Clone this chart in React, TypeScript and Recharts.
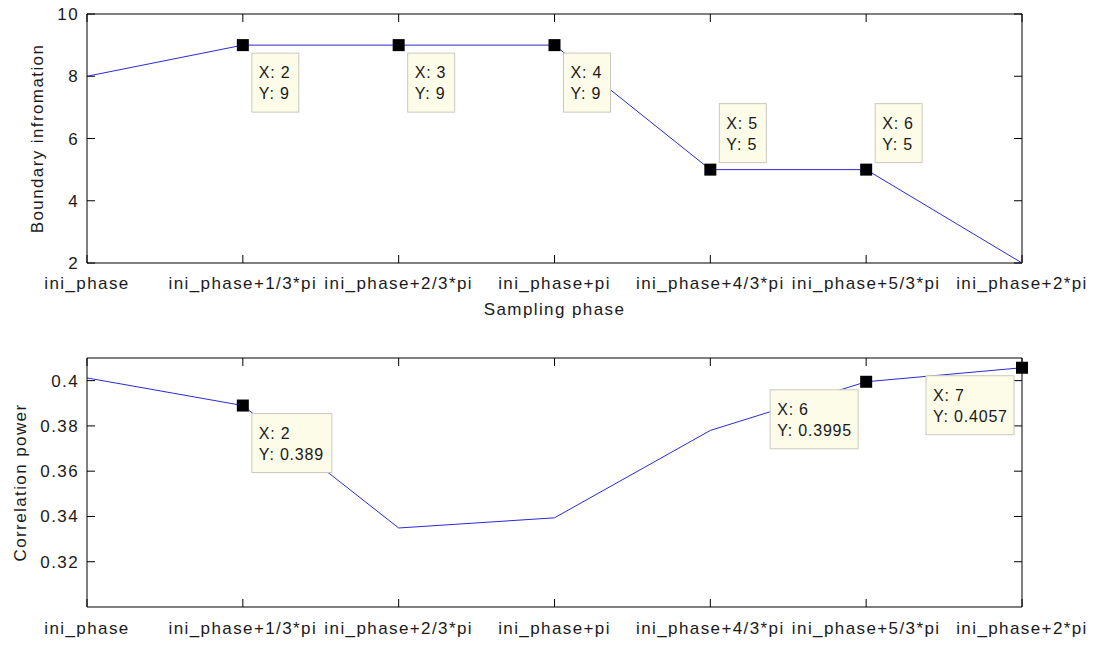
import React from 'react';
import { LineChart, Line, XAxis, YAxis, LabelList, ReferenceLine } from 'recharts';

// Sampling phases along the x axis
const phaseLabels = [
  'ini_phase',
  'ini_phase+1/3*pi',
  'ini_phase+2/3*pi',
  'ini_phase+pi',
  'ini_phase+4/3*pi',
  'ini_phase+5/3*pi',
  'ini_phase+2*pi',
];
const phaseIndex = [1, 2, 3, 4, 5, 6, 7];

// Series values per sampling phase
const boundaryInfo = [8, 9, 9, 9, 5, 5, 2];
const correlationPower = [0.4012, 0.389, 0.3349, 0.3394, 0.378, 0.3995, 0.4057];

// Axis ticks and limits
const boundaryTicks = [2, 4, 6, 8, 10];
const boundaryDomain: [number, number] = [2, 10];
const correlationTicks = [0.32, 0.34, 0.36, 0.38, 0.4];
const correlationDomain: [number, number] = [0.3, 0.41];

// Data tips: which points carry a marker and a tip, and where its box sits
const boundaryTips: Record<number, string> = { 1: 'br', 2: 'br', 3: 'br', 4: 'ar', 5: 'ar' };
const correlationTips: Record<number, string> = { 1: 'br', 5: 'bl', 6: 'bl' };

const topData = phaseIndex.map((x, i) => ({ x, value: boundaryInfo[i] }));
const bottomData = phaseIndex.map((x, i) => ({ x, value: correlationPower[i] }));

const FONT = '"Liberation Sans", Arial, sans-serif';
const TEXT = '#1a1a1a';
const LINE = '#2a2ad2';

const W = 1099;
const PLOT_W = 935;
const PLOT_H = 249;
const TICK_PX = 8;

const tickStyle = { fontSize: 17, fill: TEXT, fontFamily: FONT, letterSpacing: 1.4 };
const xDomain: [number, number] = [phaseIndex[0], phaseIndex[phaseIndex.length - 1]];

const makeDot = (tips: Record<number, string>) => (props: any) => {
  const { cx, cy, index } = props;
  if (!(index in tips) || cx == null || cy == null) return <g key={`d${index}`} />;
  return <rect key={`d${index}`} x={cx - 6} y={cy - 6} width={12} height={12} fill="#000" />;
};

const makeTip = (tips: Record<number, string>) => (props: any) => {
  const { x, y, value, index } = props;
  const place = tips[index];
  if (!place || x == null || y == null) return null;
  const lineX = `X: ${index + 1}`;
  const lineY = `Y: ${value}`;
  const w = Math.round(Math.max(lineX.length, lineY.length) * 8.2 + 14);
  const h = 59;
  let bx = x + 9;
  let by = y + 8;
  if (place === 'ar') {
    by = y - 7 - h;
  } else if (place === 'bl') {
    bx = x - 8 - w;
  }
  return (
    <g key={`t${index}`}>
      <rect x={bx} y={by} width={w} height={h} fill="#fcfce8" stroke="#c9c9c0" strokeWidth={1} />
      <text x={bx + 7} y={by + 25} fontSize={16} fill={TEXT} fontFamily={FONT} style={{ letterSpacing: 0.8 }}>
        {lineX}
      </text>
      <text x={bx + 7} y={by + 46} fontSize={16} fill={TEXT} fontFamily={FONT} style={{ letterSpacing: 0.8 }}>
        {lineY}
      </text>
    </g>
  );
};

const YTitle = ({ viewBox, text, cx }: any) => {
  if (!viewBox) return null;
  const cy = viewBox.y + viewBox.height / 2;
  return (
    <text
      x={cx}
      y={cy}
      transform={`rotate(-90, ${cx}, ${cy})`}
      textAnchor="middle"
      dominantBaseline="central"
      fontSize={17}
      fill={TEXT}
      fontFamily={FONT}
      style={{ letterSpacing: 1.4 }}
    >
      {text}
    </text>
  );
};

const XTitle = ({ viewBox, text }: any) => {
  if (!viewBox) return null;
  return (
    <text
      x={viewBox.x + viewBox.width / 2}
      y={viewBox.y + 52}
      textAnchor="middle"
      fontSize={17}
      fill={TEXT}
      fontFamily={FONT}
      style={{ letterSpacing: 1.4 }}
    >
      {text}
    </text>
  );
};

// Box frame (top and right edges) plus inward-pointing ticks on all four sides
function frameAndTicks(yDomain: [number, number], yTicks: number[], key: string) {
  const [y0, y1] = yDomain;
  const [x0, x1] = xDomain;
  const dy = ((y1 - y0) * TICK_PX) / PLOT_H;
  const dx = ((x1 - x0) * TICK_PX) / PLOT_W;
  const s = { stroke: '#000', strokeWidth: 1 };
  const out: React.ReactNode[] = [
    <ReferenceLine key={`${key}-top`} y={y1} {...s} />,
    <ReferenceLine key={`${key}-right`} x={x1} {...s} />,
  ];
  phaseIndex.forEach((v) => {
    out.push(
      <ReferenceLine key={`${key}-xb${v}`} segment={[{ x: v, y: y0 }, { x: v, y: y0 + dy }]} {...s} />,
      <ReferenceLine key={`${key}-xt${v}`} segment={[{ x: v, y: y1 }, { x: v, y: y1 - dy }]} {...s} />
    );
  });
  yTicks.forEach((t) => {
    out.push(
      <ReferenceLine key={`${key}-yl${t}`} segment={[{ x: x0, y: t }, { x: x0 + dx, y: t }]} {...s} />,
      <ReferenceLine key={`${key}-yr${t}`} segment={[{ x: x1, y: t }, { x: x1 - dx, y: t }]} {...s} />
    );
  });
  return out;
}

export default function App() {
  return (
    <div style={{ position: 'absolute', left: 0, top: 0, width: W, height: 646, background: '#fff', fontFamily: FONT }}>
      {/* Boundary information vs sampling phase */}
      <div style={{ position: 'absolute', left: 0, top: 0 }}>
        <LineChart width={W} height={340} data={topData} margin={{ top: 14, right: 77, left: 0, bottom: 0 }}>
          <XAxis
            type="number"
            dataKey="x"
            domain={xDomain}
            ticks={phaseIndex}
            interval={0}
            tickFormatter={(v: number) => phaseLabels[v - 1]}
            tick={tickStyle}
            tickLine={false}
            tickSize={0}
            tickMargin={14}
            height={77}
            axisLine={{ stroke: '#000' }}
            label={<XTitle text="Sampling phase" />}
          />
          <YAxis
            type="number"
            domain={boundaryDomain}
            ticks={boundaryTicks}
            interval={0}
            tick={tickStyle}
            tickLine={false}
            tickSize={0}
            tickMargin={8}
            width={87}
            axisLine={{ stroke: '#000' }}
            label={<YTitle text="Boundary infromation" cx={37} />}
          />
          {frameAndTicks(boundaryDomain, boundaryTicks, 'top')}
          <Line
            dataKey="value"
            stroke={LINE}
            strokeWidth={1}
            dot={makeDot(boundaryTips)}
            activeDot={false}
            isAnimationActive={false}
          >
            <LabelList dataKey="value" content={makeTip(boundaryTips)} />
          </Line>
        </LineChart>
      </div>

      {/* Correlation power vs sampling phase */}
      <div style={{ position: 'absolute', left: 0, top: 340 }}>
        <LineChart width={W} height={306} data={bottomData} margin={{ top: 18, right: 77, left: 0, bottom: 0 }}>
          <XAxis
            type="number"
            dataKey="x"
            domain={xDomain}
            ticks={phaseIndex}
            interval={0}
            tickFormatter={(v: number) => phaseLabels[v - 1]}
            tick={tickStyle}
            tickLine={false}
            tickSize={0}
            tickMargin={15}
            height={39}
            axisLine={{ stroke: '#000' }}
          />
          <YAxis
            type="number"
            domain={correlationDomain}
            ticks={correlationTicks}
            interval={0}
            allowDataOverflow
            tick={tickStyle}
            tickFormatter={(v: number) => String(v)}
            tickLine={false}
            tickSize={0}
            tickMargin={8}
            width={87}
            axisLine={{ stroke: '#000' }}
            label={<YTitle text="Correlation power" cx={20} />}
          />
          {frameAndTicks(correlationDomain, correlationTicks, 'bottom')}
          <Line
            dataKey="value"
            stroke={LINE}
            strokeWidth={1}
            dot={makeDot(correlationTips)}
            activeDot={false}
            isAnimationActive={false}
          >
            <LabelList dataKey="value" content={makeTip(correlationTips)} />
          </Line>
        </LineChart>
      </div>
    </div>
  );
}
